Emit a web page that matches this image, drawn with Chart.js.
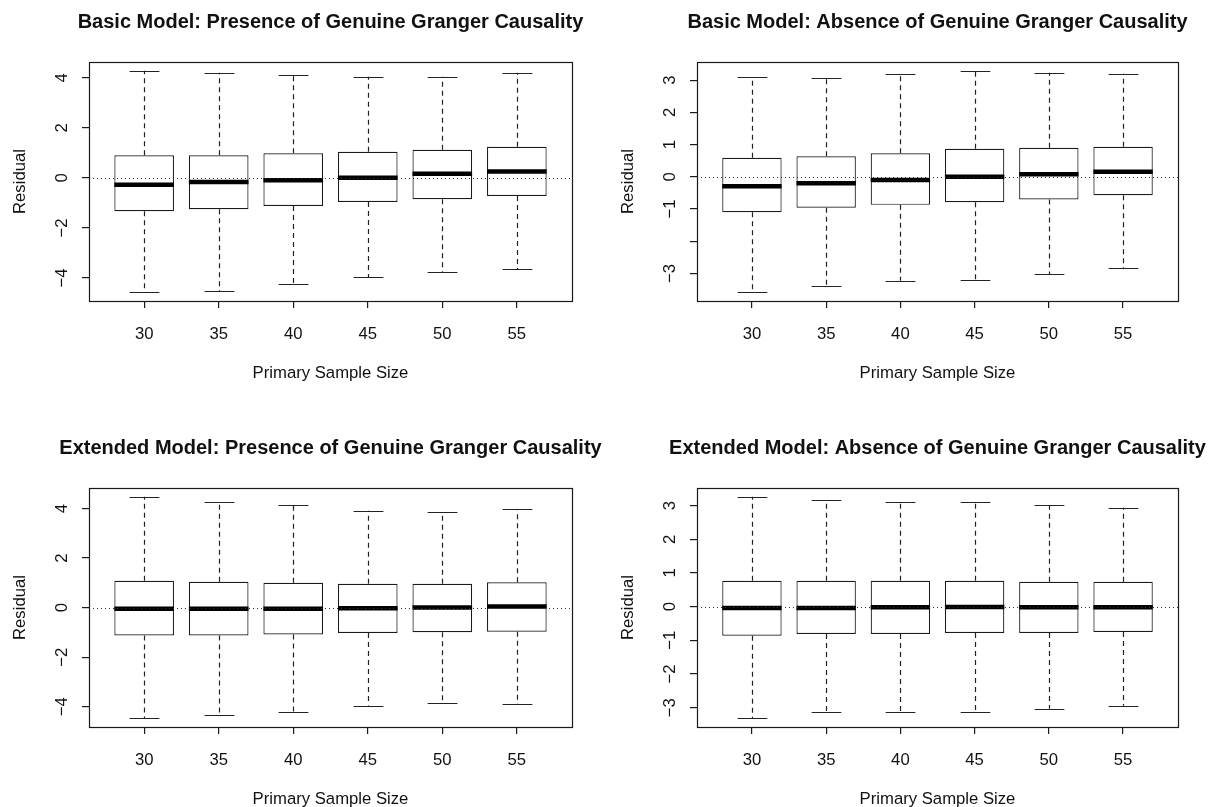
<!DOCTYPE html>
<html>
<head>
<meta charset="utf-8">
<script src="https://cdn.jsdelivr.net/npm/chart.js@4/dist/chart.umd.min.js"></script>
<style>
  html, body { margin: 0; padding: 0; background: #ffffff; }
  #wrap { position: relative; width: 1217px; height: 807px; background: #ffffff; }
  canvas { position: absolute; }
</style>
</head>
<body>
<div id="wrap">
  <canvas id="c1" width="608" height="403" style="left:0px;top:0px"></canvas>
  <canvas id="c2" width="609" height="403" style="left:608px;top:0px"></canvas>
  <canvas id="c3" width="608" height="404" style="left:0px;top:403px"></canvas>
  <canvas id="c4" width="609" height="404" style="left:608px;top:403px"></canvas>
</div>
<script>
// ---------- data ----------
const sampleSizes = [30, 35, 40, 45, 50, 55];
const xTickLabels = ['30', '35', '40', '45', '50', '55'];
const xAxisTitle = 'Primary Sample Size';
const yAxisTitle = 'Residual';

// Basic model, presence of genuine Granger causality
const basicPresLower  = [-4.57, -4.52, -4.25, -3.97, -3.76, -3.65];
const basicPresQ1     = [-1.33, -1.25, -1.12, -0.96, -0.85, -0.72];
const basicPresMedian = [-0.27, -0.16, -0.10,  0.00,  0.16,  0.25];
const basicPresQ3     = [ 0.90,  0.90,  0.98,  1.04,  1.12,  1.24];
const basicPresUpper  = [ 4.28,  4.20,  4.13,  4.04,  4.04,  4.20];

// Basic model, absence of genuine Granger causality
const basicAbsLower  = [-3.58, -3.40, -3.23, -3.20, -3.02, -2.84];
const basicAbsQ1     = [-1.10, -0.96, -0.87, -0.79, -0.70, -0.57];
const basicAbsMedian = [-0.29, -0.20, -0.10,  0.00,  0.08,  0.16];
const basicAbsQ3     = [ 0.59,  0.64,  0.73,  0.87,  0.90,  0.93];
const basicAbsUpper  = [ 3.10,  3.07,  3.18,  3.29,  3.23,  3.20];

// Extended model, presence of genuine Granger causality
const extPresLower  = [-4.46, -4.35, -4.22, -3.95, -3.86, -3.90];
const extPresQ1     = [-1.12, -1.12, -1.08, -1.02, -0.99, -0.97];
const extPresMedian = [-0.05, -0.05, -0.05, -0.03,  0.01,  0.05];
const extPresQ3     = [ 1.08,  1.04,  1.00,  0.96,  0.96,  1.02];
const extPresUpper  = [ 4.47,  4.26,  4.14,  3.91,  3.86,  3.98];

// Extended model, absence of genuine Granger causality
const extAbsLower  = [-3.31, -3.13, -3.14, -3.14, -3.03, -2.94];
const extAbsQ1     = [-0.86, -0.81, -0.81, -0.78, -0.78, -0.75];
const extAbsMedian = [-0.04, -0.04, -0.02, -0.01, -0.02, -0.02];
const extAbsQ3     = [ 0.77,  0.77,  0.77,  0.77,  0.74,  0.74];
const extAbsUpper  = [ 3.26,  3.17,  3.11,  3.11,  3.02,  2.94];

// y tick values and labels
const yTicksPres        = [-4, -2, 0, 2, 4];
const yTickLabelsPres   = ['\u22124', '\u22122', '0', '2', '4'];
const yTicksAbs         = [-3, -2, -1, 0, 1, 2, 3];
const yTickLabelsBasicAbs = ['\u22123', '', '\u22121', '0', '1', '2', '3'];
const yTickLabelsExtAbs   = ['\u22123', '\u22122', '\u22121', '0', '1', '2', '3'];

const titles = [
  'Basic Model: Presence of Genuine Granger Causality',
  'Basic Model: Absence of Genuine Granger Causality',
  'Extended Model: Presence of Genuine Granger Causality',
  'Extended Model: Absence of Genuine Granger Causality'
];

// ---------- drawing ----------
const LINE = '#1a1a1a';
const TEXT = '#111111';
const FONT = '"Liberation Sans", Arial, Helvetica, sans-serif';

const boxExtras = {
  id: 'boxExtras',
  afterDatasetsDraw(chart, args, opts) {
    const ctx = chart.ctx;
    const ca = chart.chartArea;
    const xs = chart.scales.x, ys = chart.scales.y;
    const meta = chart.getDatasetMeta(0);
    const p = opts.panel;
    ctx.save();
    for (let i = 0; i < p.median.length; i++) {
      const bar = meta.data[i];
      const w = bar.width;
      const x = Math.round(xs.getPixelForValue(i + 1)) + 0.5;
      const yL = ys.getPixelForValue(p.lower[i]);
      const y1 = ys.getPixelForValue(p.q1[i]);
      const yM = ys.getPixelForValue(p.median[i]);
      const y3 = ys.getPixelForValue(p.q3[i]);
      const yU = ys.getPixelForValue(p.upper[i]);
      // whiskers (dashed)
      ctx.strokeStyle = '#222222';
      ctx.lineWidth = 1.2;
      ctx.setLineDash([5, 4]);
      ctx.beginPath();
      ctx.moveTo(x, y3); ctx.lineTo(x, yU);
      ctx.moveTo(x, y1); ctx.lineTo(x, yL);
      ctx.stroke();
      // staples
      ctx.setLineDash([]);
      ctx.lineWidth = 1.2;
      ctx.beginPath();
      ctx.moveTo(x - w / 4, Math.round(yU) + 0.5); ctx.lineTo(x + w / 4, Math.round(yU) + 0.5);
      ctx.moveTo(x - w / 4, Math.round(yL) + 0.5); ctx.lineTo(x + w / 4, Math.round(yL) + 0.5);
      ctx.stroke();
      // median
      ctx.strokeStyle = '#000000';
      ctx.lineWidth = 4.5;
      ctx.lineCap = 'butt';
      ctx.beginPath();
      ctx.moveTo(bar.x - w / 2, yM); ctx.lineTo(bar.x + w / 2, yM);
      ctx.stroke();
    }
    // dotted zero line
    const y0 = Math.round(ys.getPixelForValue(0)) + 0.5;
    ctx.strokeStyle = '#333333';
    ctx.lineWidth = 1;
    ctx.setLineDash([1, 3]);
    ctx.beginPath();
    ctx.moveTo(ca.left, y0); ctx.lineTo(ca.right, y0);
    ctx.stroke();
    ctx.setLineDash([]);
    // frame
    ctx.strokeStyle = LINE;
    ctx.lineWidth = 1.2;
    ctx.strokeRect(Math.round(ca.left) + 0.5, Math.round(ca.top) + 0.5,
                   Math.round(ca.right - ca.left), Math.round(ca.bottom - ca.top));
    // texts
    ctx.fillStyle = TEXT;
    ctx.font = 'bold 20px ' + FONT;
    ctx.textAlign = 'center';
    ctx.textBaseline = 'alphabetic';
    ctx.fillText(p.title, (ca.left + ca.right) / 2, ca.top - 34);
    ctx.font = '16.7px ' + FONT;
    xs.ticks.forEach((t, i) => {
      ctx.fillText(xTickLabels[i], xs.getPixelForValue(t.value), ca.bottom + 38);
    });
    ctx.fillText(xAxisTitle, (ca.left + ca.right) / 2, ca.bottom + 77);
    ys.ticks.forEach((t, i) => {
      const yy = ys.getPixelForValue(t.value);
      ctx.save();
      ctx.translate(ca.left - 22, yy);
      ctx.rotate(-Math.PI / 2);
      ctx.fillText(p.yLabels[i], 0, 0);
      ctx.restore();
    });
    ctx.save();
    ctx.translate(ca.left - 64, (ca.top + ca.bottom) / 2);
    ctx.rotate(-Math.PI / 2);
    ctx.fillText(yAxisTitle, 0, 0);
    ctx.restore();
    ctx.restore();
  }
};

function makePanel(canvasId, panel, area) {
  const cv = document.getElementById(canvasId);
  const W = cv.width, H = cv.height;
  const xAxisH = 10;
  const lo = Math.min(...panel.lower), hi = Math.max(...panel.upper);
  const ext = (hi - lo) * 0.04;
  new Chart(cv, {
    type: 'bar',
    data: {
      datasets: [{
        data: sampleSizes.map((s, i) => ({ x: i + 1, y: [panel.q1[i], panel.q3[i]] })),
        backgroundColor: '#ffffff',
        borderColor: LINE,
        borderWidth: 1.2,
        borderSkipped: false,
        barPercentage: 0.8,
        categoryPercentage: 1.0
      }]
    },
    options: {
      responsive: false,
      animation: false,
      events: [],
      layout: { padding: { left: 0, top: area.top, right: W - area.right, bottom: H - area.bottom - xAxisH } },
      plugins: {
        legend: { display: false },
        title: { display: false },
        tooltip: { enabled: false },
        boxExtras: { panel: panel }
      },
      scales: {
        x: {
          type: 'linear',
          min: 0.26, max: 6.74,
          offset: false,
          afterBuildTicks: s => { s.ticks = sampleSizes.map((_, i) => ({ value: i + 1 })); },
          afterFit: s => { s.height = xAxisH; },
          ticks: { display: false },
          grid: { display: true, offset: false, drawOnChartArea: false, drawTicks: true, tickLength: 7, color: LINE, lineWidth: 1.2 },
          border: { display: false }
        },
        y: {
          type: 'linear',
          min: lo - ext, max: hi + ext,
          afterBuildTicks: s => { s.ticks = panel.yTicks.map(v => ({ value: v })); },
          afterFit: s => { s.width = area.left; },
          ticks: { display: false },
          grid: { display: true, offset: false, drawOnChartArea: false, drawTicks: true, tickLength: 7, color: LINE, lineWidth: 1.2 },
          border: { display: false }
        }
      }
    },
    plugins: [boxExtras]
  });
}

makePanel('c1', {
  title: titles[0], lower: basicPresLower, q1: basicPresQ1, median: basicPresMedian,
  q3: basicPresQ3, upper: basicPresUpper, yTicks: yTicksPres, yLabels: yTickLabelsPres
}, { left: 89, top: 62, right: 572, bottom: 301 });

makePanel('c2', {
  title: titles[1], lower: basicAbsLower, q1: basicAbsQ1, median: basicAbsMedian,
  q3: basicAbsQ3, upper: basicAbsUpper, yTicks: yTicksAbs, yLabels: yTickLabelsBasicAbs
}, { left: 89, top: 62, right: 570, bottom: 301 });

makePanel('c3', {
  title: titles[2], lower: extPresLower, q1: extPresQ1, median: extPresMedian,
  q3: extPresQ3, upper: extPresUpper, yTicks: yTicksPres, yLabels: yTickLabelsPres
}, { left: 89, top: 85, right: 572, bottom: 324 });

makePanel('c4', {
  title: titles[3], lower: extAbsLower, q1: extAbsQ1, median: extAbsMedian,
  q3: extAbsQ3, upper: extAbsUpper, yTicks: yTicksAbs, yLabels: yTickLabelsExtAbs
}, { left: 89, top: 85, right: 570, bottom: 324 });
</script>
</body>
</html>
